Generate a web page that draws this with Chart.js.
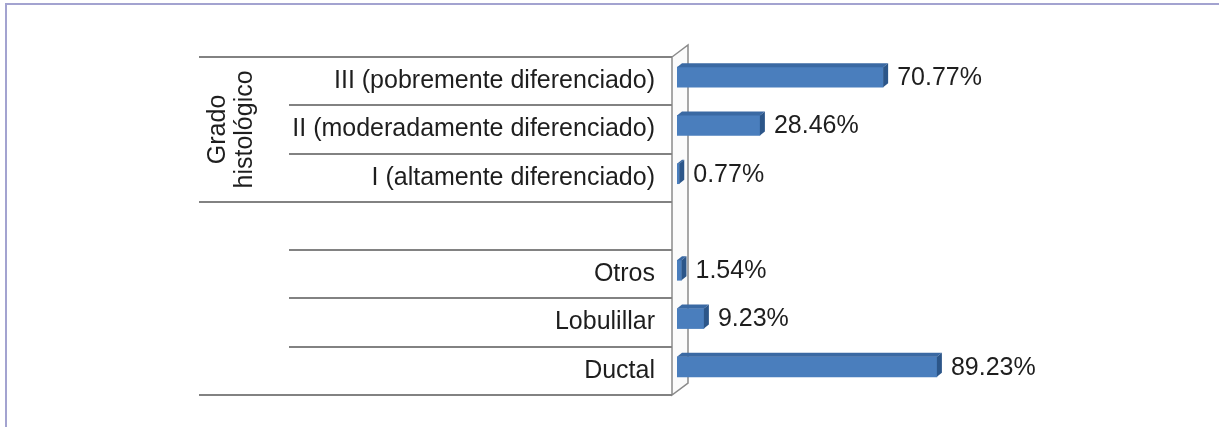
<!DOCTYPE html>
<html>
<head>
<meta charset="utf-8">
<script src="https://cdn.jsdelivr.net/npm/chart.js@4.4.1/dist/chart.umd.min.js"></script>
<style>
    body { margin: 0; background: #ffffff; }
    canvas { display: block; }
</style>
</head>
<body>
<canvas id="histoChart" width="1219" height="427"></canvas>
<script>
// categories top to bottom (blank row separates the two groups)
const categories = [
    'III (pobremente diferenciado)',
    'II (moderadamente diferenciado)',
    'I (altamente diferenciado)',
    '',
    'Otros',
    'Lobulillar',
    'Ductal'
];
const percentValues = [70.77, 28.46, 0.77, null, 1.54, 9.23, 89.23];
const groupLabel = ['Grado', 'histológico'];
// which row boundaries run across the group column too
const fullLines = [0, 3, 7];

const FONT = '"Liberation Sans", Arial, sans-serif';
const FONT_SIZE = 25;
const DEPTH_X = 5;
const DEPTH_Y = 4;
const SHIFT_Y = -4;

const framePlugin = {
    id: 'frame',
    beforeDraw(chart) {
        let ctx = chart.ctx;
        ctx.save();
        ctx.strokeStyle = '#a3a3d0';
        ctx.lineWidth = 2;
        ctx.beginPath();
        ctx.moveTo(6, 427);
        ctx.lineTo(6, 4);
        ctx.lineTo(1219, 4);
        ctx.stroke();
        ctx.restore();
    }
};

const wallPlugin = {
    id: 'wall',
    beforeDatasetsDraw(chart) {
        let ctx = chart.ctx;
        let area = chart.chartArea;
        let fx = area.left - 5;
        let bx = fx + 16;
        ctx.save();
        ctx.fillStyle = '#fbfbfb';
        ctx.strokeStyle = '#8a8a8a';
        ctx.lineWidth = 1.5;
        ctx.beginPath();
        ctx.moveTo(fx, area.top);
        ctx.lineTo(bx, area.top - 12);
        ctx.lineTo(bx, area.bottom - 12);
        ctx.lineTo(fx, area.bottom);
        ctx.closePath();
        ctx.fill();
        ctx.stroke();

        // category separators
        let yScale = chart.scales.y;
        let rowH = (yScale.bottom - yScale.top) / categories.length;
        ctx.strokeStyle = '#828282';
        ctx.lineWidth = 2;
        for (let k = 0; k <= categories.length; k++) {
            let y = Math.round(yScale.top + k * rowH);
            let x0 = fullLines.includes(k) ? 199 : 289;
            ctx.beginPath();
            ctx.moveTo(x0, y);
            ctx.lineTo(fx, y);
            ctx.stroke();
        }

        // group label, rotated
        let gy = yScale.getPixelForValue(1);
        ctx.fillStyle = '#1e1e1e';
        ctx.font = FONT_SIZE + 'px ' + FONT;
        ctx.textAlign = 'center';
        ctx.textBaseline = 'middle';
        ctx.translate(231, gy);
        ctx.rotate(-Math.PI / 2);
        ctx.fillText(groupLabel[0], 0, -13);
        ctx.fillText(groupLabel[1], 0, 14);
        ctx.restore();

        ctx.save();
        ctx.translate(0, SHIFT_Y);
    },
    afterDatasetsDraw(chart) {
        let ctx = chart.ctx;
        let meta = chart.getDatasetMeta(0);
        meta.data.forEach((bar, i) => {
            if (percentValues[i] === null) return;
            let half = bar.height / 2;
            let top = bar.y - half;
            let bottom = bar.y + half;
            // top face
            ctx.fillStyle = '#3a69a3';
            ctx.beginPath();
            ctx.moveTo(bar.base, top);
            ctx.lineTo(bar.base + DEPTH_X, top - DEPTH_Y);
            ctx.lineTo(bar.x + DEPTH_X, top - DEPTH_Y);
            ctx.lineTo(bar.x, top);
            ctx.closePath();
            ctx.fill();
            // side face
            ctx.fillStyle = '#2c5689';
            ctx.beginPath();
            ctx.moveTo(bar.x, top);
            ctx.lineTo(bar.x + DEPTH_X, top - DEPTH_Y);
            ctx.lineTo(bar.x + DEPTH_X, bottom - DEPTH_Y);
            ctx.lineTo(bar.x, bottom);
            ctx.closePath();
            ctx.fill();
            // value label
            ctx.fillStyle = '#1e1e1e';
            ctx.font = FONT_SIZE + 'px ' + FONT;
            ctx.textAlign = 'left';
            ctx.textBaseline = 'middle';
            ctx.fillText(percentValues[i].toFixed(2) + '%', bar.x + DEPTH_X + 9, bar.y + 1);
        });
        ctx.restore();
    }
};

let ctx = document.getElementById('histoChart');
new Chart(ctx, {
    type: 'bar',
    data: {
        labels: categories,
        datasets: [{
            data: percentValues,
            backgroundColor: '#4a7ebd',
            borderWidth: 0,
            barThickness: 20
        }]
    },
    options: {
        indexAxis: 'y',
        responsive: false,
        animation: false,
        devicePixelRatio: 1,
        layout: {
            padding: {left: 0, right: 242, top: 57, bottom: 32}
        },
        plugins: {
            legend: {display: false},
            title: {display: false},
            tooltip: {enabled: false}
        },
        scales: {
            x: {
                display: false,
                min: 0,
                max: 103
            },
            y: {
                afterFit: (scale) => {
                    scale.width = 677;
                    scale.paddingTop = 0;
                    scale.paddingBottom = 0;
                },
                grid: {display: false, drawTicks: false},
                border: {display: false},
                ticks: {
                    autoSkip: false,
                    padding: 22,
                    color: '#1e1e1e',
                    font: {family: FONT, size: FONT_SIZE}
                }
            }
        }
    },
    plugins: [framePlugin, wallPlugin]
});
</script>
</body>
</html>
